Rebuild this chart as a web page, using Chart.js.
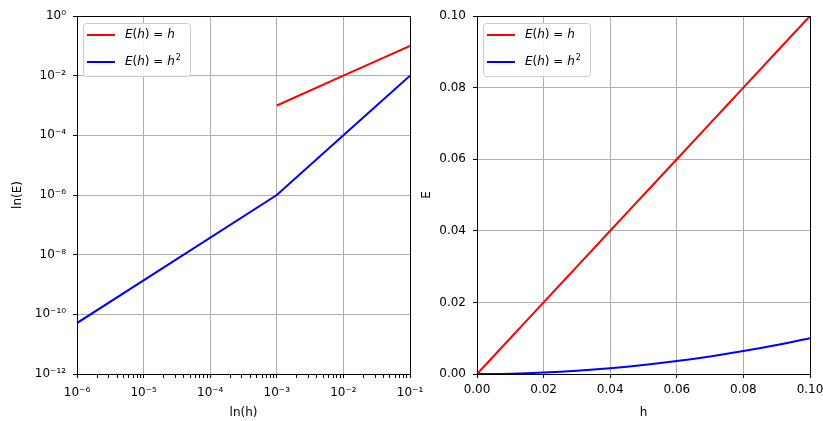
<!DOCTYPE html>
<html>
<head>
<meta charset="utf-8">
<script src="https://cdn.jsdelivr.net/npm/chart.js@4.4.1/dist/chart.umd.min.js"></script>
<style>
  html, body { margin: 0; padding: 0; background: #fff; overflow: hidden; }
  #wrap { position: relative; width: 823px; height: 421px; overflow: hidden; }
  canvas { position: absolute; top: 0; }
  #logChart { left: 0; }
  #linChart { left: 415px; }
</style>
</head>
<body>
<div id="wrap">
  <canvas id="logChart" width="440" height="421"></canvas>
  <canvas id="linChart" width="438" height="421"></canvas>
</div>
<script>
// left panel (log-log)
const hLog = [1e-6, 1e-3, 1e-2, 1e-1];
const eLinLog = [null, 1e-3, 1e-2, 1e-1];
const eSqLog = [5.1e-11, 1e-6, 1e-4, 1e-2];
const logXTicks = [1e-6, 1e-5, 1e-4, 1e-3, 1e-2, 1e-1];
const logYTicks = [1e-12, 1e-10, 1e-8, 1e-6, 1e-4, 1e-2, 1];

// right panel (linear)
const hLin = [0, 0.01, 0.02, 0.03, 0.04, 0.05, 0.06, 0.07, 0.08, 0.09, 0.1];
const eLin = [0, 0.01, 0.02, 0.03, 0.04, 0.05, 0.06, 0.07, 0.08, 0.09, 0.1];
const eSq = [0, 0.0001, 0.0004, 0.0009, 0.0016, 0.0025, 0.0036, 0.0049, 0.0064, 0.0081, 0.01];
const linTicks = [0, 0.02, 0.04, 0.06, 0.08, 0.1];

const seriesLabels = ['E(h) = h', 'E(h) = h²'];
const seriesColors = ['#ff0000', '#0000ff'];

const FONT = 'DejaVu Sans';
const GRID = '#b0b0b0';

// minor ticks between decades on the log x axis
const logXMinor = [];
logXTicks.slice(0, -1).forEach(d => {
    for (let k = 2; k <= 9; k++) logXMinor.push(d * k);
});

const SUP = { '-': '⁻', '0': '⁰', '1': '¹', '2': '²', '3': '³', '4': '⁴', '5': '⁵', '6': '⁶', '7': '⁷', '8': '⁸', '9': '⁹' };
function powLabel(v) {
    const e = String(Math.round(Math.log10(v)));
    return '10' + e.split('').map(c => SUP[c]).join('');
}
function isMajor(v, list) {
    return list.some(t => Math.abs(t - v) / t < 1e-6);
}

// draws label text like matplotlib mathtext: letters italic, ² as raised 2
function drawMath(ctx, text, x, y) {
    for (const ch of text) {
        if (ch === '²') {
            ctx.font = '8px "' + FONT + '"';
            ctx.fillText('2', x + 1, y - 4);
            x += ctx.measureText('2').width + 1;
            continue;
        }
        ctx.font = (/[A-Za-z]/.test(ch) ? 'italic ' : '') + '12px "' + FONT + '"';
        ctx.fillText(ch, x, y);
        x += ctx.measureText(ch).width;
    }
}

function roundRect(ctx, x, y, w, h, r) {
    ctx.beginPath();
    ctx.moveTo(x + r, y);
    ctx.arcTo(x + w, y, x + w, y + h, r);
    ctx.arcTo(x + w, y + h, x, y + h, r);
    ctx.arcTo(x, y + h, x, y, r);
    ctx.arcTo(x, y, x + w, y, r);
    ctx.closePath();
}

const frameAndLegend = {
    id: 'frameAndLegend',
    afterDatasetsDraw(chart) {
        const { ctx, chartArea: a } = chart;
        ctx.save();
        // spines
        ctx.strokeStyle = '#000';
        ctx.lineWidth = 1;
        ctx.strokeRect(a.left + 0.5, a.top + 0.5, a.right - a.left, a.bottom - a.top);
        // legend box
        roundRect(ctx, a.left + 6.5, a.top + 7.5, 107, 53, 3);
        ctx.fillStyle = 'rgba(255,255,255,0.85)';
        ctx.fill();
        ctx.strokeStyle = '#cccccc';
        ctx.stroke();
        chart.data.datasets.forEach((ds, i) => {
            const y = a.top + 19 + i * 27;
            ctx.strokeStyle = ds.borderColor;
            ctx.lineWidth = 2;
            ctx.beginPath();
            ctx.moveTo(a.left + 10, y);
            ctx.lineTo(a.left + 38, y);
            ctx.stroke();
            ctx.fillStyle = '#000';
            ctx.textBaseline = 'middle';
            ctx.textAlign = 'left';
            drawMath(ctx, ds.label, a.left + 48, y);
        });
        ctx.restore();
    }
};

function makeDatasets(xs, ys, smooth) {
    return ys.map((vals, i) => ({
        label: seriesLabels[i],
        data: xs.map((x, j) => ({ x: x, y: vals[j] })),
        borderColor: seriesColors[i],
        backgroundColor: seriesColors[i],
        borderWidth: 2,
        pointRadius: 0,
        fill: false,
        tension: 0,
        cubicInterpolationMode: smooth ? 'monotone' : 'default'
    }));
}

const tickFont = { family: FONT, size: 12 };

function initializeLogChart() {
    const ctx = document.getElementById('logChart').getContext('2d');
    new Chart(ctx, {
        type: 'line',
        data: { datasets: makeDatasets(hLog, [eLinLog, eSqLog], false) },
        plugins: [frameAndLegend],
        options: {
            responsive: false,
            animation: false,
            devicePixelRatio: 1,
            layout: { padding: { left: 0, right: 30, top: 16, bottom: 0 } },
            plugins: { legend: { display: false }, tooltip: { enabled: false } },
            scales: {
                x: {
                    type: 'logarithmic',
                    min: 1e-6,
                    max: 1e-1,
                    afterBuildTicks: s => {
                        s.ticks = logXTicks.concat(logXMinor).sort((p, q) => p - q).map(v => ({ value: v }));
                    },
                    afterFit: s => { s.height = 47; },
                    border: { display: false },
                    grid: {
                        color: c => (c.tick && isMajor(c.tick.value, logXTicks) ? GRID : 'rgba(0,0,0,0)'),
                        tickColor: '#000',
                        tickLength: 4,
                        lineWidth: 1
                    },
                    ticks: {
                        autoSkip: false,
                        maxRotation: 0,
                        padding: 8,
                        color: '#000',
                        font: tickFont,
                        callback: v => (isMajor(v, logXTicks) ? powLabel(v) : '')
                    },
                    title: { display: true, text: 'ln(h)', color: '#000', font: tickFont, padding: { top: 0, bottom: 1 } }
                },
                y: {
                    type: 'logarithmic',
                    min: 1e-12,
                    max: 1,
                    afterBuildTicks: s => { s.ticks = logYTicks.map(v => ({ value: v })); },
                    afterFit: s => { s.width = 77; },
                    border: { display: false },
                    grid: { color: GRID, tickColor: '#000', tickLength: 4, lineWidth: 1 },
                    ticks: {
                        autoSkip: false,
                        padding: 7,
                        color: '#000',
                        font: tickFont,
                        callback: v => powLabel(v)
                    },
                    title: { display: true, text: 'ln(E)', color: '#000', font: tickFont, padding: { top: 11, bottom: 0 } }
                }
            }
        }
    });
}

function initializeLinChart() {
    const ctx = document.getElementById('linChart').getContext('2d');
    new Chart(ctx, {
        type: 'line',
        data: { datasets: makeDatasets(hLin, [eLin, eSq], true) },
        plugins: [frameAndLegend],
        options: {
            responsive: false,
            animation: false,
            devicePixelRatio: 1,
            layout: { padding: { left: 0, right: 43, top: 16, bottom: 0 } },
            plugins: { legend: { display: false }, tooltip: { enabled: false } },
            scales: {
                x: {
                    type: 'linear',
                    min: 0,
                    max: 0.1,
                    afterBuildTicks: s => { s.ticks = linTicks.map(v => ({ value: v })); },
                    afterFit: s => { s.height = 47; },
                    border: { display: false },
                    grid: { color: GRID, tickColor: '#000', tickLength: 4, lineWidth: 1 },
                    ticks: {
                        autoSkip: false,
                        maxRotation: 0,
                        padding: 5,
                        color: '#000',
                        font: tickFont,
                        callback: v => v.toFixed(2)
                    },
                    title: { display: true, text: 'h', color: '#000', font: tickFont, padding: { top: 0, bottom: 1 } }
                },
                y: {
                    type: 'linear',
                    min: 0,
                    max: 0.1,
                    afterBuildTicks: s => { s.ticks = linTicks.map(v => ({ value: v })); },
                    afterFit: s => { s.width = 62; },
                    border: { display: false },
                    grid: { color: GRID, tickColor: '#000', tickLength: 4, lineWidth: 1 },
                    ticks: {
                        autoSkip: false,
                        padding: 7,
                        color: '#000',
                        font: tickFont,
                        callback: v => v.toFixed(2)
                    },
                    title: { display: true, text: 'E', color: '#000', font: tickFont, padding: { top: 5, bottom: 0 } }
                }
            }
        }
    });
}

window.onload = function () {
    initializeLogChart();
    initializeLinChart();
};
</script>
</body>
</html>
